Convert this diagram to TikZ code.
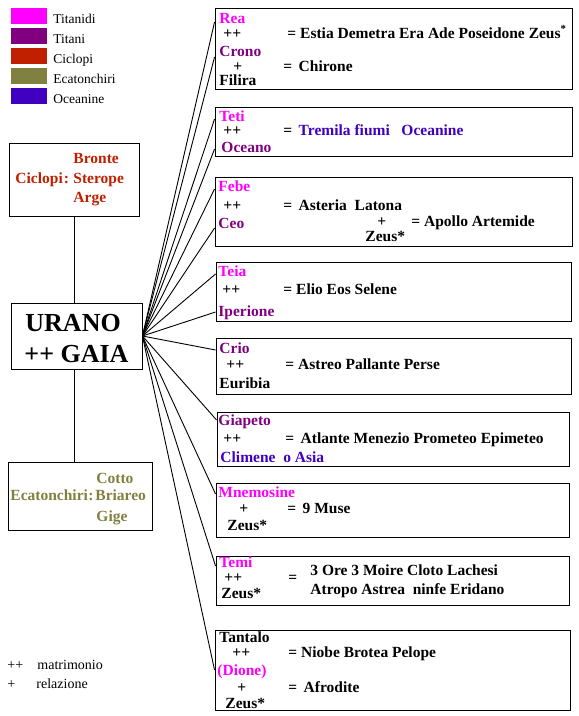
\documentclass[tikz,border=0pt]{standalone}
\usepackage{fontspec}
\setmainfont{Liberation Serif}
\definecolor{titanide}{HTML}{FF00FF}
\definecolor{titano}{HTML}{800080}
\definecolor{ciclope}{HTML}{C02000}
\definecolor{ecatonchiro}{HTML}{808040}
\definecolor{oceanina}{HTML}{4000C0}
\tikzset{
  frame/.style={draw, line width=0.9pt, inner sep=0pt},
  txt/.style={anchor=base west, inner sep=0pt, font=\bfseries\fontsize{15.5}{17}\selectfont},
  leg/.style={anchor=base west, inner sep=0pt, font=\fontsize{13.5}{15}\selectfont},
  swatch/.style={minimum width=36pt, minimum height=16pt, inner sep=0pt}
}
\begin{document}
\begin{tikzpicture}[x=1pt, y=-1pt, line width=0.9pt]
   \useasboundingbox (0,0) rectangle (579,716);
   % legenda dei colori
   \foreach \c/\l/\y in {titanide/Titanidi/16, titano/Titani/36, ciclope/Ciclopi/56,
                         ecatonchiro/Ecatonchiri/76, oceanina/Oceanine/96}
     {
     \node[swatch, fill=\c] (sw-\l) at (29,\y) {};
     \node[leg] (lg-\l) at (53,{\y+7}) {\l};
     }
   % riquadri a sinistra
   \node[frame, minimum width=130pt, minimum height=73pt] (ciclopi) at (74,179.5) {};
   \node[frame, minimum width=131pt, minimum height=66pt] (urano) at (76.5,336) {};
   \node[frame, minimum width=144pt, minimum height=68pt] (ecato) at (80,496) {};
   \draw (ciclopi.south) -- (ciclopi.south |- urano.north);
   \draw (ciclopi.south |- urano.south) -- (ciclopi.south |- ecato.north);
   \node[txt, font=\bfseries\fontsize{26}{28}\selectfont] (u1) at (25,331) {URANO};
   \node[txt, font=\bfseries\fontsize{26}{28}\selectfont] (u2) at (24,362) {++ GAIA};
   \begin{scope}[every node/.append style={text=ciclope}]
     \node[txt] (c1) at (73,163) {Bronte};
     \node[txt] (c0) at (15,183) {Ciclopi\kern1pt:};
     \node[txt] (c2) at (73,183) {Sterope};
     \node[txt] (c3) at (73,202) {Arge};
   \end{scope}
   \begin{scope}[every node/.append style={text=ecatonchiro}]
     \node[txt] (e1) at (96,483) {Cotto};
     \node[txt] (e0) at (10,500) {Ecatonchiri\kern0.5pt:};
     \node[txt] (e2) at (95,500) {Briareo};
     \node[txt] (e3) at (96,521) {Gige};
   \end{scope}
   % riquadri a destra
   \foreach \n/\xa/\ya/\xb/\yb in {rea/215/8/572/89, teti/215/107/572/156,
       febe/215/177/572/246, teia/216/262/571/321, crio/216/338/571/394,
       giapeto/217/412/569/466, mnemosine/216/483/569/537,
       temi/216/556/569/605, tantalo/215/630/570/710}
     \node[frame, minimum width={(\xb-\xa)*1pt}, minimum height={(\yb-\ya)*1pt}]
       (\n) at ({(\xa+\xb)/2},{(\ya+\yb)/2}) {};
   \foreach \n/\y in {rea/22, rea/57, teti/119, teti/149, febe/189, febe/228,
       teia/274, teia/312, crio/350, giapeto/420, mnemosine/494, temi/566,
       tantalo/670}
     {
     \coordinate (\n-\y) at (\n.west |- 0,\y);
     \draw (urano.east) -- (\n-\y);
     }
   % Rea e Crono
   \node[txt, text=titanide] (rea1) at (219,23) {Rea};
   \node[txt] (rea2) at (223,38) {++};
   \node[txt] (rea3) at (287,38) {= Estia Demetra Era Ade Poseidone Zeus\textsuperscript{*}};
   \node[txt, text=titano] (rea4) at (219,56) {Crono};
   \node[txt] (rea5) at (233,71) {+};
   \node[txt] (rea6) at (283,71) {= \,Chirone};
   \node[txt] (rea7) at (219,85) {Filira};
   % Teti e Oceano
   \node[txt, text=titanide] (teti1) at (219,121) {Teti};
   \node[txt] (teti2) at (223,135) {++};
   \node[txt] (teti3) at (283,135) {= \,\textcolor{oceanina}{Tremila fiumi \ \ Oceanine}};
   \node[txt, text=titano] (teti4) at (221,152) {Oceano};
   % Febe e Ceo
   \node[txt, text=titanide] (febe1) at (218,191) {Febe};
   \node[txt] (febe2) at (223,210) {++};
   \node[txt] (febe3) at (283,210) {= \,Asteria \ Latona};
   \node[txt, text=titano] (febe4) at (218,228) {Ceo};
   \node[txt] (febe5) at (377,226) {+};
   \node[txt] (febe6) at (411,226) {= Apollo Artemide};
   \node[txt] (febe7) at (365,241) {Zeus*};
   % Teia e Iperione
   \node[txt, text=titanide] (teia1) at (218,276) {Teia};
   \node[txt] (teia2) at (222,294) {++};
   \node[txt] (teia3) at (283,294) {= Elio Eos Selene};
   \node[txt, text=titano] (teia4) at (218,316) {Iperione};
   % Crio ed Euribia
   \node[txt, text=titano] (crio1) at (219,353) {Crio};
   \node[txt] (crio2) at (226,369) {++};
   \node[txt] (crio3) at (285,369) {= Astreo Pallante Perse};
   \node[txt] (crio4) at (219,388) {Euribia};
   % Giapeto e Climene
   \node[txt, text=titano] (gia1) at (218,425) {Giapeto};
   \node[txt] (gia2) at (223,443) {++};
   \node[txt] (gia3) at (285,443) {= \,Atlante Menezio Prometeo Epimeteo};
   \node[txt, text=oceanina] (gia4) at (220,462) {Climene \ o Asia};
   % Mnemosine e Zeus
   \node[txt, text=titanide] (mne1) at (218,497) {Mnemosine};
   \node[txt] (mne2) at (239,513) {+};
   \node[txt] (mne3) at (287,513) {= \,9 Muse};
   \node[txt] (mne4) at (227,530) {Zeus*};
   % Temi e Zeus
   \node[txt, text=titanide] (temi1) at (219,567) {Temi};
   \node[txt] (temi2) at (224,582) {++};
   \node[txt] (temi3) at (288,582) {=};
   \node[txt] (temi4) at (310,575) {3 Ore 3 Moire Cloto Lachesi};
   \node[txt] (temi5) at (310,594) {Atropo Astrea \ ninfe Eridano};
   \node[txt] (temi6) at (221,598) {Zeus*};
   % Tantalo, Dione e Zeus
   \node[txt] (tan1) at (219,642) {Tantalo};
   \node[txt] (tan2) at (232,657) {++};
   \node[txt] (tan3) at (288,657) {= Niobe Brotea Pelope};
   \node[txt, text=titanide] (tan4) at (217,675) {(Dione)};
   \node[txt] (tan5) at (237,692) {+};
   \node[txt] (tan6) at (288,692) {= \,Afrodite};
   \node[txt] (tan7) at (225,708) {Zeus*};
   % legenda dei segni
   \node[leg, font=\fontsize{14}{16}\selectfont] (s1) at (7,669) {++};
   \node[leg, font=\fontsize{14}{16}\selectfont] (s2) at (37,669) {matrimonio};
   \node[leg, font=\fontsize{14}{16}\selectfont] (s3) at (7,688) {+};
   \node[leg, font=\fontsize{14}{16}\selectfont] (s4) at (36,688) {relazione};
\end{tikzpicture}
\end{document}
